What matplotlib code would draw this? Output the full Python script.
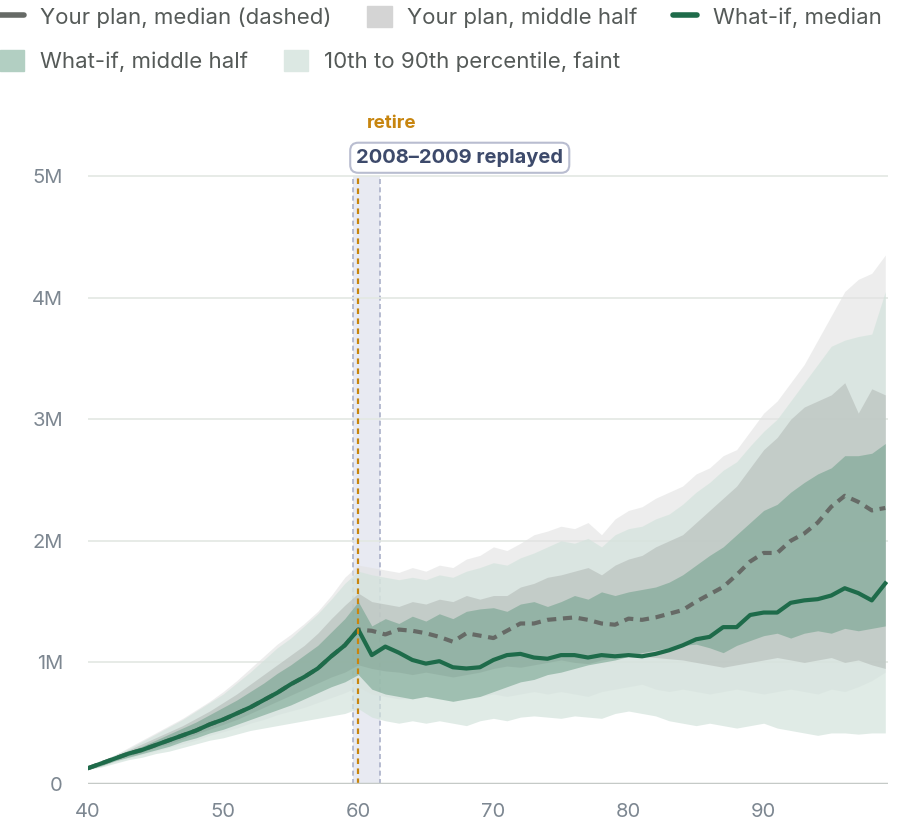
import numpy as np
import matplotlib
matplotlib.use("Agg")
import matplotlib.pyplot as plt
from matplotlib.patches import Patch
from matplotlib.lines import Line2D

plt.rcParams['font.family'] = ['Inter', 'DejaVu Sans']

ages = list(range(40, 100))
# values in millions
whatif_median = [0.13,0.17,0.21,0.25,0.28,0.32,0.36,0.40,0.44,0.49,0.53,0.58,0.63,0.69,0.75,0.82,0.88,0.95,1.05,1.14,1.27,
                 1.06,1.13,1.08,1.02,0.99,1.01,0.96,0.95,0.96,1.02,1.06,1.07,1.04,1.03,1.06,1.06,1.04,1.06,1.05,
                 1.06,1.05,1.07,1.10,1.14,1.19,1.21,1.29,1.29,1.39,1.41,1.41,1.49,1.51,1.52,1.55,1.61,1.57,1.51,1.65]
plan_median = whatif_median[:21] + [1.26,1.23,1.27,1.26,1.24,1.21,1.17,1.24,1.22,1.20,1.26,1.32,1.32,1.35,1.36,1.37,1.35,1.32,1.31,
                 1.36,1.35,1.37,1.40,1.43,1.50,1.56,1.62,1.72,1.83,1.90,1.90,2.00,2.06,2.15,2.28,2.37,2.32,2.25,2.27]
plan_p90 = [0.14,0.19,0.24,0.30,0.36,0.42,0.48,0.54,0.61,0.68,0.76,0.85,0.95,1.05,1.15,1.23,1.32,1.42,1.55,1.70,1.80,
            1.78,1.76,1.74,1.78,1.75,1.80,1.78,1.85,1.88,1.95,1.92,1.98,2.05,2.08,2.12,2.10,2.15,2.05,2.18,
            2.25,2.28,2.35,2.40,2.45,2.55,2.60,2.70,2.75,2.90,3.05,3.15,3.30,3.45,3.65,3.85,4.05,4.15,4.20,4.35]
whatif_p90 = [0.14,0.19,0.24,0.29,0.35,0.41,0.47,0.53,0.60,0.67,0.74,0.83,0.92,1.02,1.12,1.20,1.30,1.40,1.52,1.65,1.75,
              1.72,1.70,1.68,1.70,1.68,1.72,1.70,1.75,1.78,1.82,1.80,1.86,1.90,1.95,2.00,1.98,2.02,1.95,2.05,
              2.10,2.12,2.18,2.22,2.30,2.40,2.48,2.58,2.65,2.78,2.90,3.00,3.15,3.30,3.45,3.60,3.65,3.68,3.70,4.05]
plan_p75 = [0.14,0.18,0.23,0.28,0.33,0.38,0.43,0.48,0.54,0.60,0.67,0.74,0.82,0.90,0.98,1.06,1.14,1.24,1.36,1.47,1.57,
            1.50,1.48,1.46,1.50,1.48,1.52,1.50,1.55,1.52,1.55,1.55,1.62,1.65,1.70,1.72,1.75,1.78,1.72,1.80,
            1.85,1.88,1.95,2.00,2.05,2.15,2.25,2.35,2.45,2.60,2.75,2.85,3.00,3.10,3.15,3.20,3.30,3.05,3.25,3.20]
whatif_p75 = [0.13,0.18,0.22,0.27,0.31,0.36,0.41,0.46,0.51,0.57,0.63,0.69,0.76,0.83,0.91,0.98,1.06,1.14,1.25,1.36,1.50,
              1.30,1.36,1.32,1.38,1.34,1.40,1.36,1.42,1.44,1.45,1.42,1.48,1.50,1.46,1.50,1.55,1.52,1.58,1.55,
              1.58,1.60,1.62,1.66,1.72,1.80,1.88,1.95,2.05,2.15,2.25,2.30,2.40,2.48,2.55,2.60,2.70,2.70,2.72,2.80]
plan_p25 = [0.13,0.16,0.20,0.23,0.26,0.30,0.33,0.37,0.41,0.45,0.49,0.53,0.58,0.63,0.68,0.73,0.78,0.83,0.88,0.92,0.98,
            0.95,0.93,0.92,0.90,0.92,0.90,0.88,0.90,0.92,0.95,0.97,0.96,0.98,1.00,1.02,1.00,0.99,1.02,1.04,
            1.06,1.05,1.04,1.03,1.02,1.00,0.98,0.96,0.98,1.00,1.02,1.04,1.02,1.00,1.02,1.04,1.00,1.02,0.98,0.95]
whatif_p25 = [0.12,0.15,0.19,0.22,0.25,0.28,0.31,0.35,0.38,0.42,0.45,0.49,0.53,0.57,0.61,0.65,0.70,0.75,0.80,0.84,0.90,
              0.78,0.74,0.72,0.70,0.72,0.70,0.68,0.70,0.72,0.76,0.80,0.84,0.86,0.90,0.92,0.95,0.98,1.00,1.02,
              1.05,1.08,1.10,1.12,1.14,1.15,1.12,1.08,1.14,1.18,1.22,1.24,1.20,1.24,1.26,1.24,1.28,1.26,1.28,1.30]
whatif_p10 = [0.12,0.14,0.17,0.20,0.22,0.25,0.27,0.30,0.33,0.36,0.38,0.41,0.44,0.46,0.48,0.50,0.52,0.54,0.56,0.58,0.62,
              0.55,0.52,0.50,0.52,0.50,0.52,0.50,0.48,0.52,0.54,0.52,0.55,0.56,0.55,0.54,0.56,0.55,0.54,0.58,
              0.60,0.58,0.56,0.52,0.50,0.48,0.50,0.48,0.46,0.48,0.50,0.46,0.44,0.42,0.40,0.42,0.42,0.41,0.42,0.42]
plan_p10 = [0.12,0.15,0.18,0.21,0.24,0.27,0.30,0.33,0.36,0.40,0.43,0.46,0.50,0.53,0.57,0.60,0.63,0.67,0.71,0.75,0.80,
            0.74,0.72,0.70,0.70,0.72,0.70,0.68,0.70,0.72,0.74,0.72,0.74,0.76,0.74,0.76,0.74,0.72,0.76,0.78,
            0.80,0.82,0.78,0.76,0.78,0.76,0.74,0.76,0.78,0.76,0.74,0.76,0.78,0.76,0.74,0.78,0.76,0.80,0.85,0.92]

yticks = [0, 1, 2, 3, 4, 5]
ytick_labels = ["0", "1M", "2M", "3M", "4M", "5M"]
xticks = [40, 50, 60, 70, 80, 90]
retire_age = 60
crash_start, crash_end = 59.6, 61.6

c_plan_faint = "#e2e2e2"
c_plan_mid = "#a9aeab"
c_wi_faint = "#d3e3dc"
c_wi_mid = "#6fa08a"
c_wi_line = "#1e6b4a"
c_plan_line = "#666a66"
tick_col = "#7d8791"

fig = plt.figure(figsize=(9.12, 8.36), dpi=100)
ax = fig.add_axes([88/912, 1-784/836, 800/912, 674/836])

ax.fill_between(ages, plan_p10, plan_p90, color=c_plan_faint, alpha=0.6, lw=0, zorder=2)
ax.fill_between(ages, whatif_p10, whatif_p90, color=c_wi_faint, alpha=0.7, lw=0, zorder=2)
ax.fill_between(ages, plan_p25, plan_p75, color=c_plan_mid, alpha=0.45, lw=0, zorder=3)
ax.fill_between(ages, whatif_p25, whatif_p75, color=c_wi_mid, alpha=0.55, lw=0, zorder=3)
ax.plot(ages, plan_median, color=c_plan_line, lw=3, ls=(0, (2.2, 1.6)), zorder=5)
ax.plot(ages, whatif_median, color=c_wi_line, lw=3, zorder=6)

top = 5.0
ax.fill_between([crash_start, crash_end], 0, top, color="#e8eaf2", lw=0, zorder=1)
ax.vlines([crash_start, crash_end], 0, top, color="#aab0c8", lw=1.2, ls=(0, (3, 2)), zorder=1.5)
ax.vlines(retire_age, 0, top, color="#c7850f", lw=1.6, ls=(0, (2.5, 2)), zorder=7)

ax.set_xlim(40, 99.2)
ax.set_ylim(0, 674/121.6)
ax.set_yticks(yticks)
ax.set_yticklabels(ytick_labels)
ax.set_xticks(xticks)
for s in ax.spines.values():
    s.set_visible(False)
ax.grid(axis='y', color="#e3e8e3", lw=1.2, zorder=0)
ax.axhline(0, color="#c5cac7", lw=2.5, zorder=8)
ax.tick_params(length=0, labelsize=14.5, colors=tick_col, pad=14)
ax.tick_params(axis='y', pad=18)

ax.text(60.6, 5.43, "retire", color="#c7850f", fontsize=13.5, fontweight="bold", va="center", ha="left")
ax.text(59.85, 5.15, "2008–2009 replayed", color="#3d4a6b", fontsize=14.5, fontweight="bold", va="center", ha="left",
        bbox=dict(boxstyle="round,pad=0.3,rounding_size=0.4", fc="white", ec="#b9bdd0", lw=1.5), zorder=10)

h1 = [Line2D([], [], color=c_plan_line, lw=4, solid_capstyle='round'),
      Patch(color="#d4d4d4"),
      Line2D([], [], color=c_wi_line, lw=4, solid_capstyle='round')]
l1 = ["Your plan, median (dashed)", "Your plan, middle half", "What-if, median"]
h2 = [Patch(color="#b2cfc2"), Patch(color="#dce8e3")]
l2 = ["What-if, middle half", "10th to 90th percentile, faint"]
kw = dict(frameon=False, fontsize=16, labelcolor="#555a58", handlelength=1.1, handleheight=1.1,
          handletextpad=0.7, columnspacing=1.6, borderaxespad=0, borderpad=0)
fig.legend(h1, l1, loc="center left", bbox_to_anchor=(0.0, 1-17/836), ncol=3, **kw)
fig.legend(h2, l2, loc="center left", bbox_to_anchor=(0.0, 1-61/836), ncol=2, **kw)

fig.savefig("out.png", dpi=100)
